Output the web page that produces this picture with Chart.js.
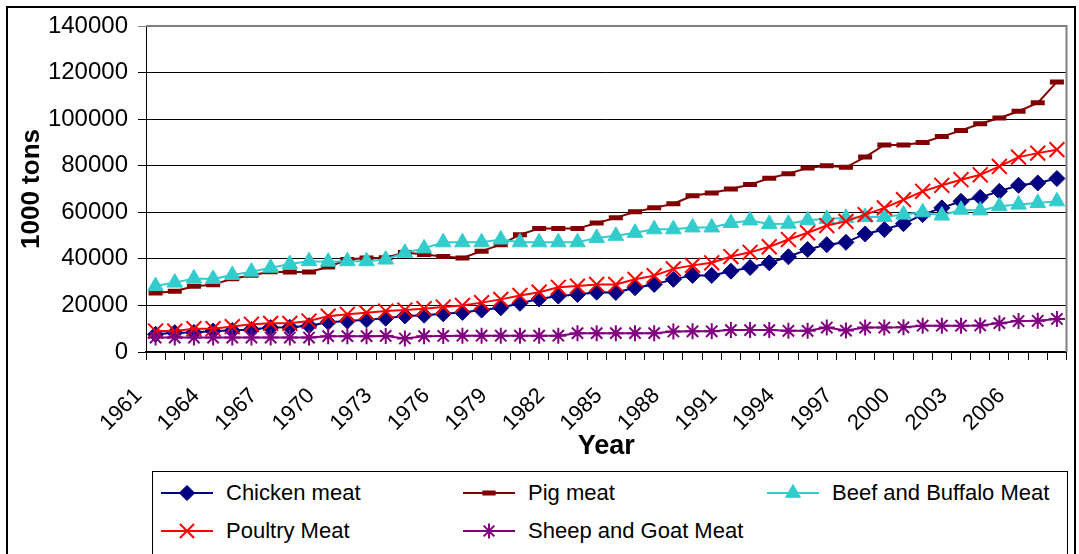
<!DOCTYPE html>
<html>
<head>
<meta charset="utf-8">
<script src="https://cdn.jsdelivr.net/npm/chart.js@4.4.1/dist/chart.umd.min.js"></script>
<style>
  html, body { margin: 0; padding: 0; background: #fff; }
  #wrap { position: relative; width: 1079px; height: 554px; overflow: hidden; background: #fff; }
  #chart { position: absolute; left: 0; top: 0; }
  #frame { position: absolute; left: 6px; top: 6px; width: 1070px; height: 600px;
           border: 2px solid #000; box-sizing: border-box; pointer-events: none; }
  #legend { position: absolute; left: 152px; top: 471px; width: 916px; height: 100px;
            border: 1px solid #000; box-sizing: border-box; background: #fff;
            font-family: "Liberation Sans", Arial, sans-serif; font-size: 22px; color: #000; }
  .item { position: absolute; display: flex; align-items: center; height: 30px; white-space: nowrap; }
  .item canvas { display: block; margin-right: 9px; }
</style>
</head>
<body>
<div id="wrap">
  <canvas id="chart" width="1079" height="554"></canvas>
  <div id="legend"></div>
  <div id="frame"></div>
</div>
<script>
// World meat production, 1961-2008 (1000 tons)
const years = [
  '1961','1962','1963','1964','1965','1966','1967','1968','1969','1970',
  '1971','1972','1973','1974','1975','1976','1977','1978','1979','1980',
  '1981','1982','1983','1984','1985','1986','1987','1988','1989','1990',
  '1991','1992','1993','1994','1995','1996','1997','1998','1999','2000',
  '2001','2002','2003','2004','2005','2006','2007','2008'
];

const chickenMeat = [
  7600, 8300, 8400, 9000, 9200, 9700, 10500, 10600, 11300, 12800,
  13300, 13800, 14500, 15500, 15800, 16400, 17000, 18000, 19000, 20900,
  22800, 24000, 24700, 25700, 25600, 27600, 29000, 31200, 32900, 32900,
  34700, 36300, 38300, 40900, 44000, 46100, 47100, 50700, 52600, 55100,
  59000, 61900, 64700, 66400, 69000, 71600, 72600, 74500
];

const pigMeat = [
  25300, 26100, 28200, 28900, 31500, 33000, 34500, 34400, 34400, 36500,
  39700, 40400, 40500, 42700, 41900, 41000, 40400, 43300, 46100, 50400,
  53000, 53000, 53000, 55400, 57600, 60200, 61900, 63700, 67100, 68300,
  70000, 71900, 74600, 76600, 79000, 80000, 79300, 83700, 88900, 88900,
  90000, 92500, 95100, 98000, 100500, 103400, 107000, 116000
];

const beefBuffaloMeat = [
  28300, 29800, 31600, 31400, 33100, 34500, 36200, 37800, 39000, 38800,
  39000, 39000, 39700, 42600, 44500, 47100, 47100, 47100, 48300, 47100,
  47100, 47100, 47100, 49000, 49900, 51200, 52700, 52700, 53500, 53500,
  55400, 56500, 55000, 55100, 56600, 57200, 57600, 58000, 58000, 59000,
  60000, 58600, 61100, 60800, 62600, 63300, 64000, 64700
];

const poultryMeat = [
  9000, 9000, 10000, 10000, 10900, 11900, 12300, 12300, 13300, 15400,
  16200, 16900, 17600, 18000, 18600, 19300, 20000, 21200, 22600, 24300,
  25700, 27800, 28300, 29000, 29000, 31200, 32800, 35700, 37200, 38300,
  41000, 42800, 45200, 48300, 51200, 54300, 56100, 59000, 61900, 65400,
  69000, 71600, 74000, 76100, 79700, 83700, 85400, 86900
];

const sheepGoatMeat = [
  6200, 6200, 6200, 6200, 6200, 6200, 6200, 6200, 6200, 6800,
  6800, 6800, 6900, 5800, 6800, 6900, 7000, 7000, 7000, 7000,
  7000, 7000, 8100, 8100, 8100, 8100, 8100, 8800, 8900, 8900,
  9400, 9400, 9400, 9100, 9100, 10500, 9200, 10500, 10500, 10600,
  11300, 11300, 11300, 11400, 12400, 13300, 13400, 14200
];

const yTicks = [0, 20000, 40000, 60000, 80000, 100000, 120000, 140000];

const FONT = '"Liberation Sans", Arial, sans-serif';

const series = [
  { label: 'Chicken meat',          data: chickenMeat,     color: '#000080', style: 'rectRot',  radius: 8,    pw: 1, order: 5 },
  { label: 'Pig meat',              data: pigMeat,         color: '#800000', style: 'line',     radius: 7,    pw: 5, order: 4 },
  { label: 'Beef and Buffalo Meat', data: beefBuffaloMeat, color: '#33CCCC', style: 'triangle', radius: 9,    pw: 1, order: 3 },
  { label: 'Poultry Meat',          data: poultryMeat,     color: '#FF0000', style: 'crossRot', radius: 10.5, pw: 2, order: 2 },
  { label: 'Sheep and Goat Meat',   data: sheepGoatMeat,   color: '#800080', style: 'star',     radius: 8,    pw: 2, order: 1 }
];

const datasets = series.map(s => ({
  label: s.label,
  data: s.data,
  borderColor: s.color,
  backgroundColor: s.color,
  borderWidth: 2,
  tension: 0,
  pointStyle: s.style,
  pointRadius: s.radius,
  pointBorderWidth: s.pw,
  pointBorderColor: s.color,
  pointBackgroundColor: s.color,
  order: s.order
}));

// gray frame on the top and right sides of the plot area
const plotFrame = {
  id: 'plotFrame',
  beforeDatasetsDraw(chart) {
    const { ctx, chartArea: a } = chart;
    ctx.save();
    ctx.strokeStyle = '#808080';
    ctx.lineWidth = 2;
    ctx.beginPath();
    ctx.moveTo(a.left, a.top);
    ctx.lineTo(a.right, a.top);
    ctx.lineTo(a.right, a.bottom);
    ctx.stroke();
    ctx.restore();
  }
};

const chart = new Chart(document.getElementById('chart'), {
  type: 'line',
  data: { labels: years, datasets },
  options: {
    responsive: false,
    animation: false,
    devicePixelRatio: 1,
    layout: { padding: { left: 6, top: 26, right: 11, bottom: 91 } },
    plugins: { legend: { display: false }, tooltip: { enabled: false } },
    scales: {
      x: {
        offset: true,
        grid: { offset: true, drawOnChartArea: false, drawTicks: true, tickLength: 8, color: '#000' },
        border: { color: '#000', width: 2 },
        ticks: {
          autoSkip: false, maxRotation: 45, minRotation: 45,
          padding: 23, labelOffset: -17, color: '#000',
          font: { family: FONT, size: 22 },
          callback: (v, i) => (i % 3 === 0 ? years[i] : '')
        },
        title: { display: true, text: 'Year', color: '#000',
                 font: { family: FONT, size: 27, weight: 'bold' }, padding: { top: 0, bottom: 0 } },
        afterFit: s => { s.height = 111; s.paddingLeft = 0; s.paddingRight = 0; }
      },
      y: {
        min: yTicks[0],
        max: yTicks[yTicks.length - 1],
        afterBuildTicks: s => { s.ticks = yTicks.map(v => ({ value: v })); },
        ticks: { padding: 10, color: '#000', font: { family: FONT, size: 24 }, callback: v => String(v) },
        grid: {
          color: c => (c.tick && c.tick.value === 140000 ? '#808080' : '#000'),
          tickLength: 8, lineWidth: 1
        },
        border: { color: '#000', width: 1 },
        title: { display: true, text: '1000 tons', color: '#000',
                 font: { family: FONT, size: 26, weight: 'bold' }, padding: { top: 10, bottom: 0 } },
        afterFit: s => { s.width = 140; s.paddingTop = 0; s.paddingBottom = 0; }
      }
    }
  },
  plugins: [plotFrame]
});

// legend: line sample with its marker, then the series name
function drawMarker(ctx, style, x, y, r, color, pw) {
  ctx.save();
  ctx.fillStyle = color;
  ctx.strokeStyle = color;
  ctx.lineWidth = pw;
  ctx.beginPath();
  if (style === 'rectRot') {
    ctx.moveTo(x, y - r); ctx.lineTo(x + r, y); ctx.lineTo(x, y + r); ctx.lineTo(x - r, y);
    ctx.closePath(); ctx.fill(); ctx.stroke();
  } else if (style === 'line') {
    ctx.moveTo(x - r, y); ctx.lineTo(x + r, y); ctx.stroke();
  } else if (style === 'triangle') {
    for (let k = 0; k < 3; k++) {
      const a = k * 2 * Math.PI / 3;
      const px = x + Math.sin(a) * r, py = y - Math.cos(a) * r;
      k ? ctx.lineTo(px, py) : ctx.moveTo(px, py);
    }
    ctx.closePath(); ctx.fill(); ctx.stroke();
  } else if (style === 'crossRot') {
    const d = r * Math.SQRT1_2;
    ctx.moveTo(x - d, y - d); ctx.lineTo(x + d, y + d);
    ctx.moveTo(x + d, y - d); ctx.lineTo(x - d, y + d); ctx.stroke();
  } else if (style === 'star') {
    const d = r * Math.SQRT1_2;
    ctx.moveTo(x, y - r); ctx.lineTo(x, y + r);
    ctx.moveTo(x - r, y); ctx.lineTo(x + r, y);
    ctx.moveTo(x - d, y - d); ctx.lineTo(x + d, y + d);
    ctx.moveTo(x + d, y - d); ctx.lineTo(x - d, y + d); ctx.stroke();
  }
  ctx.restore();
}

const legendSlots = [[8, 6], [310, 6], [614, 6], [8, 44], [310, 44]];
const legendEl = document.getElementById('legend');
series.forEach((s, i) => {
  const item = document.createElement('div');
  item.className = 'item';
  item.style.left = legendSlots[i][0] + 'px';
  item.style.top = legendSlots[i][1] + 'px';
  const c = document.createElement('canvas');
  c.width = 56; c.height = 24;
  const g = c.getContext('2d');
  g.strokeStyle = s.color; g.lineWidth = 2;
  g.beginPath(); g.moveTo(0, 12); g.lineTo(52, 12); g.stroke();
  drawMarker(g, s.style, 26, 12, s.radius * 0.95, s.color, s.pw);
  const t = document.createElement('span');
  t.textContent = s.label;
  item.appendChild(c);
  item.appendChild(t);
  legendEl.appendChild(item);
});
</script>
</body>
</html>
